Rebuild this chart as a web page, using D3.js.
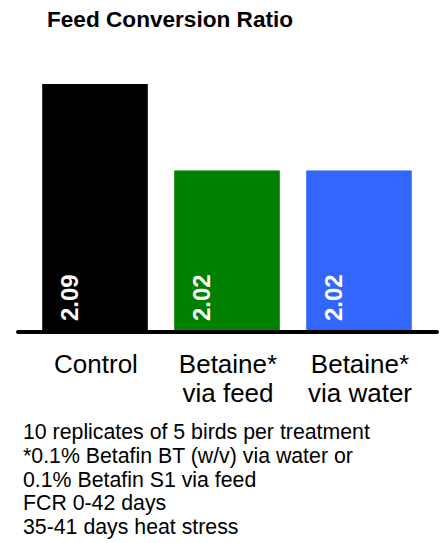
<!DOCTYPE html>
<html>
<head>
<meta charset="utf-8">
<script src="https://cdn.jsdelivr.net/npm/d3@7"></script>
<style>
  body { margin: 0; background: #fff; }
  text { font-family: "Liberation Sans", Arial, sans-serif; }
</style>
</head>
<body>
<svg id="chart" width="443" height="543"></svg>
<script>
// data
const categories = ["Control", "Betaine*|via feed", "Betaine*|via water"];
const fcr = [2.09, 2.02, 2.02];
const barColors = ["#000000", "#008000", "#3366ff"];
const notes = [
  "10 replicates of 5 birds per treatment",
  "*0.1% Betafin BT (w/v) via water or",
  "0.1% Betafin S1 via feed",
  "FCR 0-42 days",
  "35-41 days heat stress"
];

const svg = d3.select("#chart");
const baseY = 331;

// y axis starts well above zero, like the original slide
const y = d3.scaleLinear().domain([1.89, 2.09]).range([baseY, 84]);
const x = d3.scaleBand()
  .domain(categories)
  .range([29, 425])
  .paddingInner(0.2)
  .paddingOuter(0.1);

// title
svg.append("text")
  .attr("x", 47)
  .attr("y", 27)
  .attr("font-size", 22.6)
  .attr("font-weight", "bold")
  .text("Feed Conversion Ratio");

// bars
svg.selectAll("rect.bar")
  .data(categories)
  .enter()
  .append("rect")
  .attr("class", "bar")
  .attr("x", d => x(d))
  .attr("y", (d, i) => y(fcr[i]))
  .attr("width", x.bandwidth())
  .attr("height", (d, i) => baseY - y(fcr[i]))
  .attr("fill", (d, i) => barColors[i]);

// values inside bars, rotated
svg.selectAll("text.val")
  .data(categories)
  .enter()
  .append("text")
  .attr("class", "val")
  .attr("transform", d => `translate(${x(d) + 35.5},${baseY - 10}) rotate(-90)`)
  .attr("fill", "#fff")
  .attr("font-weight", "bold")
  .attr("font-size", 24)
  .text((d, i) => fcr[i].toFixed(2));

// baseline
svg.append("line")
  .attr("x1", 18)
  .attr("x2", 437)
  .attr("y1", baseY + 1)
  .attr("y2", baseY + 1)
  .attr("stroke", "#000")
  .attr("stroke-width", 4)
  .attr("stroke-linecap", "round");

// category labels (two lines where needed)
const lab = svg.selectAll("text.cat")
  .data(categories)
  .enter()
  .append("text")
  .attr("class", "cat")
  .attr("text-anchor", "middle")
  .attr("font-size", 26)
  .attr("y", 372.5);

lab.selectAll("tspan")
  .data(d => d.split("|").map(t => ({ t, c: d })))
  .enter()
  .append("tspan")
  .attr("x", d => x(d.c) + x.bandwidth() / 2 + 1)
  .attr("dy", (d, i) => i === 0 ? 0 : 29)
  .text(d => d.t);

// footnotes
svg.selectAll("text.note")
  .data(notes)
  .enter()
  .append("text")
  .attr("class", "note")
  .attr("x", 23)
  .attr("y", (d, i) => 439 + i * 23.8)
  .attr("font-size", 21.3)
  .text(d => d);
</script>
</body>
</html>
